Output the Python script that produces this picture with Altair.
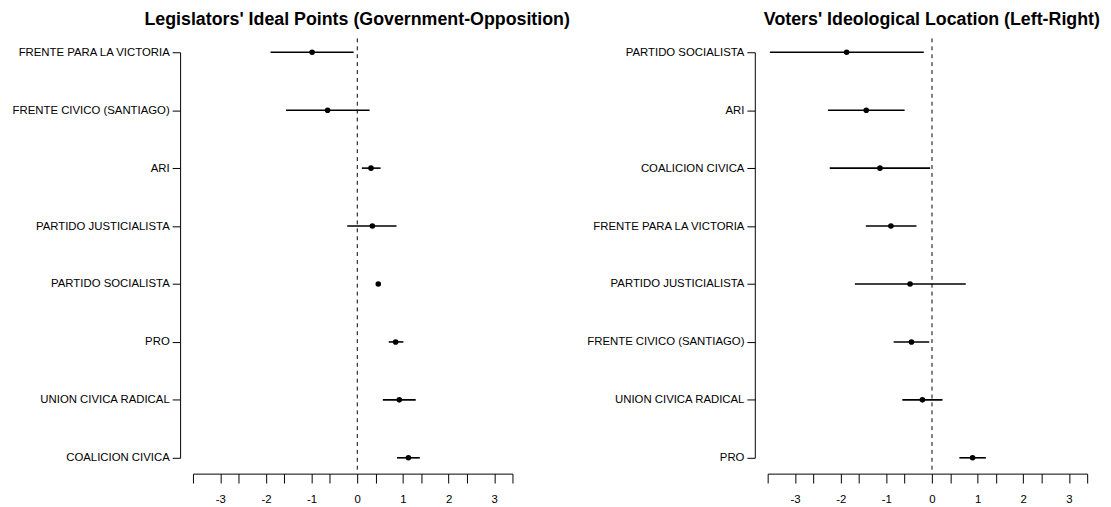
import altair as alt
import pandas as pd

left_parties = ["FRENTE PARA LA VICTORIA", "FRENTE CIVICO (SANTIAGO)", "ARI",
                "PARTIDO JUSTICIALISTA", "PARTIDO SOCIALISTA", "PRO",
                "UNION CIVICA RADICAL", "COALICION CIVICA"]
left_est = [-0.99, -0.65, 0.30, 0.33, 0.46, 0.84, 0.92, 1.12]
left_lo = [-1.90, -1.56, 0.10, -0.22, 0.44, 0.69, 0.56, 0.87]
left_hi = [-0.08, 0.27, 0.51, 0.86, 0.48, 1.01, 1.28, 1.37]

right_parties = ["PARTIDO SOCIALISTA", "ARI", "COALICION CIVICA",
                 "FRENTE PARA LA VICTORIA", "PARTIDO JUSTICIALISTA",
                 "FRENTE CIVICO (SANTIAGO)", "UNION CIVICA RADICAL", "PRO"]
right_est = [-1.87, -1.44, -1.14, -0.90, -0.48, -0.45, -0.21, 0.89]
right_lo = [-3.55, -2.28, -2.24, -1.45, -1.69, -0.84, -0.65, 0.60]
right_hi = [-0.18, -0.60, -0.04, -0.34, 0.74, -0.06, 0.23, 1.18]

x_ticks = [-3.6, -3, -2.6, -2, -1.6, -1, -0.6, 0, 0.4, 1, 1.4, 2, 2.4, 3, 3.4]
x_domain = [-3.6, 3.4]
ref_x = [0]

left_title = "Legislators' Ideal Points (Government-Opposition)"
right_title = "Voters' Ideological Location (Left-Right)"

FONT = "Liberation Sans"
W, H = 323, 410


def panel(parties, est, lo, hi, title, dx):
    df = pd.DataFrame({"party": parties, "est": est, "lo": lo, "hi": hi})
    x_scale = alt.Scale(domain=x_domain, nice=False, zero=False)
    x_axis = alt.Axis(values=x_ticks, grid=False, title=None, offset=16,
                      tickSize=9.5, labelPadding=11, labelFontSize=11.5,
                      labelFont=FONT, labelColor="black", labelOverlap=False,
                      labelFlush=False, domainColor="black", tickColor="black",
                      labelExpr="datum.value == round(datum.value) ? '' + datum.value : ''")
    y_axis = alt.Axis(title=None, offset=13, tickSize=8, labelPadding=3,
                      labelFontSize=11.5, labelFont=FONT, labelColor="black",
                      labelOverlap=False, domainColor="black", tickColor="black",
                      grid=False)
    y = alt.Y("party:N", sort=parties,
              scale=alt.Scale(type="point", padding=0), axis=y_axis)
    base = alt.Chart(df)
    ci = base.mark_rule(color="black", strokeWidth=1.6).encode(
        x=alt.X("lo:Q", scale=x_scale, axis=x_axis), x2="hi:Q", y=y)
    pts = base.mark_circle(color="black", opacity=1, size=32).encode(
        x=alt.X("est:Q", scale=x_scale, axis=x_axis), y=y)
    ref = alt.Chart(pd.DataFrame({"x": ref_x})).mark_rule(
        color="black", strokeWidth=1, strokeDash=[4, 4]).encode(
        x=alt.X("x:Q", scale=x_scale, axis=x_axis),
        y=alt.value(-14), y2=alt.value(H + 16))
    return alt.layer(ci, pts, ref).properties(
        width=W, height=H,
        title=alt.TitleParams(text=title, fontSize=18, fontWeight="bold",
                              font=FONT, anchor="middle", dx=dx, offset=9,
                              color="black"))


left = panel(left_parties, left_est, left_lo, left_hi, left_title, 4.5)
right = panel(right_parties, right_est, right_lo, right_hi, right_title, 4.5)

chart = alt.hconcat(left, right, spacing=258, bounds="flush").configure(
    padding={"left": 3, "top": 0, "right": 3, "bottom": 0}
).configure_view(stroke=None)

chart.save("out.html", embed_options={"renderer": "svg", "actions": False})
